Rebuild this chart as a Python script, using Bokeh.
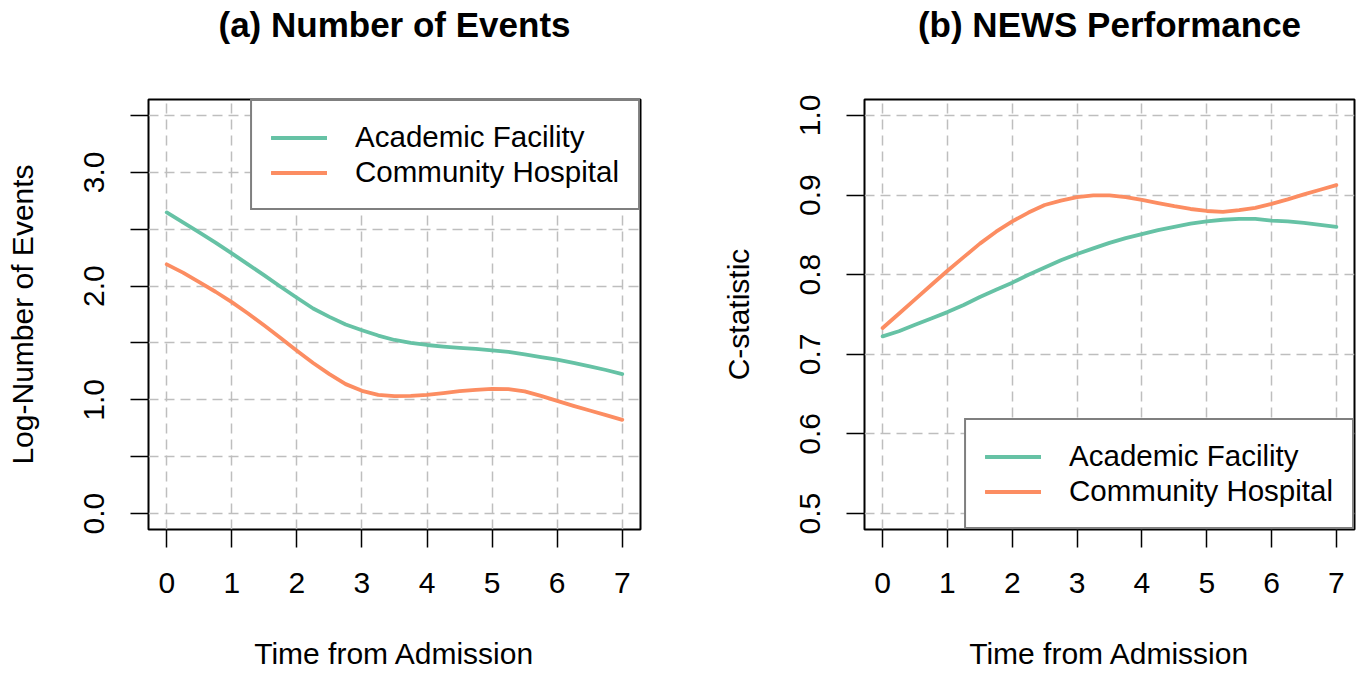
from bokeh.plotting import figure
from bokeh.layouts import row
from bokeh.models import (Legend, LegendItem, FixedTicker, CustomJSTickFormatter,
                          NumeralTickFormatter, Range1d, Title)
from bokeh.embed import file_html
from bokeh.resources import INLINE

# ---------------- data ----------------
days = [0, 0.25, 0.5, 0.75, 1, 1.25, 1.5, 1.75, 2, 2.25, 2.5, 2.75, 3, 3.25,
        3.5, 3.75, 4, 4.25, 4.5, 4.75, 5, 5.25, 5.5, 5.75, 6, 6.25, 6.5,
        6.75, 7]

events_academic = [2.647, 2.559, 2.471, 2.382, 2.288, 2.191, 2.094, 1.994,
                   1.897, 1.803, 1.729, 1.662, 1.612, 1.565, 1.526, 1.500,
                   1.482, 1.468, 1.456, 1.447, 1.435, 1.421, 1.400, 1.376,
                   1.353, 1.324, 1.294, 1.262, 1.226]
events_community = [2.191, 2.118, 2.035, 1.950, 1.859, 1.759, 1.653, 1.544,
                    1.432, 1.324, 1.226, 1.138, 1.079, 1.044, 1.032, 1.035,
                    1.044, 1.059, 1.076, 1.088, 1.097, 1.094, 1.074, 1.035,
                    0.991, 0.947, 0.906, 0.865, 0.824]

cstat_academic = [0.7225, 0.729, 0.737, 0.745, 0.753, 0.762, 0.772, 0.781,
                  0.790, 0.800, 0.809, 0.818, 0.826, 0.833, 0.840, 0.846,
                  0.851, 0.856, 0.860, 0.864, 0.867, 0.869, 0.870, 0.870,
                  0.868, 0.867, 0.865, 0.8625, 0.860]
cstat_community = [0.733, 0.751, 0.769, 0.787, 0.805, 0.822, 0.839, 0.854,
                   0.867, 0.878, 0.8875, 0.893, 0.8975, 0.8996, 0.8996,
                   0.8975, 0.894, 0.890, 0.886, 0.8825, 0.880, 0.879, 0.881,
                   0.884, 0.889, 0.8946, 0.9008, 0.9067, 0.9125]

series_names = ["Academic Facility", "Community Hospital"]
series_colors = ["#66C2A5", "#FC8D62"]

x_ticks = [0, 1, 2, 3, 4, 5, 6, 7]
events_ticks = [0, 0.5, 1, 1.5, 2, 2.5, 3, 3.5]
cstat_ticks = [0.5, 0.6, 0.7, 0.8, 0.9, 1.0]

FONT = "Liberation Sans"


def make_panel(title, ylabel, ys, y_range, y_ticks, y_formatter, width,
               left_border, right_border, legend_loc):
    p = figure(width=width, height=672, title=None,
               x_range=Range1d(-0.28, 7.28), y_range=Range1d(*y_range),
               output_backend="svg", toolbar_location=None,
               min_border_left=left_border, min_border_right=right_border,
               min_border_top=98, min_border_bottom=141,
               background_fill_color="white", border_fill_color="white")

    # spacer between the frame and the title, then the title itself
    spacer = Title(text=" ", text_font_size="1px", standoff=51)
    p.add_layout(spacer, "above")
    main_title = Title(text=title, text_font=FONT, text_font_size="35px",
                       text_font_style="bold", text_color="black",
                       align="center", standoff=4)
    p.add_layout(main_title, "above")

    p.outline_line_color = "black"
    p.outline_line_width = 2
    p.outline_line_alpha = 1

    # axes
    p.xaxis.ticker = FixedTicker(ticks=x_ticks)
    p.yaxis.ticker = FixedTicker(ticks=y_ticks)
    p.yaxis.formatter = y_formatter
    p.yaxis.major_label_orientation = "vertical"
    p.xaxis.axis_label = "Time from Admission"
    p.yaxis.axis_label = ylabel
    for ax in (p.xaxis, p.yaxis):
        ax.axis_line_color = None
        ax.minor_tick_line_color = None
        ax.major_tick_line_color = "black"
        ax.major_tick_line_width = 1.5
        ax.major_tick_out = 18
        ax.major_tick_in = 0
        ax.major_label_text_font = FONT
        ax.major_label_text_font_size = "30px"
        ax.major_label_text_color = "black"
        ax.axis_label_text_font = FONT
        ax.axis_label_text_font_size = "30px"
        ax.axis_label_text_font_style = "normal"
        ax.axis_label_text_color = "black"
    p.xaxis.major_label_standoff = 25
    p.xaxis.axis_label_standoff = 41
    p.yaxis.major_label_standoff = 26
    p.yaxis.axis_label_standoff = 43

    # grid
    p.xgrid.ticker = FixedTicker(ticks=x_ticks)
    p.ygrid.ticker = FixedTicker(ticks=y_ticks)
    for g in (p.xgrid, p.ygrid):
        g.grid_line_color = "#BEBEBE"
        g.grid_line_dash = "10 6"
        g.grid_line_width = 1.5

    renderers = []
    for yv, col in zip(ys, series_colors):
        r = p.line(days, yv, line_color=col, line_width=3.8,
                   line_join="round", line_cap="round")
        renderers.append(r)

    legend = Legend(items=[LegendItem(label=n, renderers=[r])
                           for n, r in zip(series_names, renderers)],
                    location=legend_loc)
    legend.margin = 0
    legend.padding = 19
    legend.spacing = 1
    legend.glyph_width = 56
    legend.glyph_height = 33
    legend.label_height = 33
    legend.label_standoff = 28
    legend.label_text_font = FONT
    legend.label_text_font_size = "29.5px"
    legend.label_text_color = "black"
    legend.label_text_baseline = "middle"
    legend.border_line_color = "black"
    legend.border_line_width = 2
    legend.background_fill_color = "white"
    legend.background_fill_alpha = 1.0
    p.add_layout(legend)
    return p


events_fmt = CustomJSTickFormatter(
    code="return Number.isInteger(tick) ? tick.toFixed(1) : '';")

pa = make_panel("(a) Number of Events", "Log-Number of Events",
                [events_academic, events_community], (-0.14, 3.64),
                events_ticks, events_fmt, 680, 148, 40, "top_right")
pb = make_panel("(b) NEWS Performance", "C-statistic",
                [cstat_academic, cstat_community], (0.48, 1.02),
                cstat_ticks, NumeralTickFormatter(format="0.0"), 678, 184, 4,
                "bottom_right")

layout = row(pa, pb)
open("out.html", "w").write(file_html(layout, INLINE))
